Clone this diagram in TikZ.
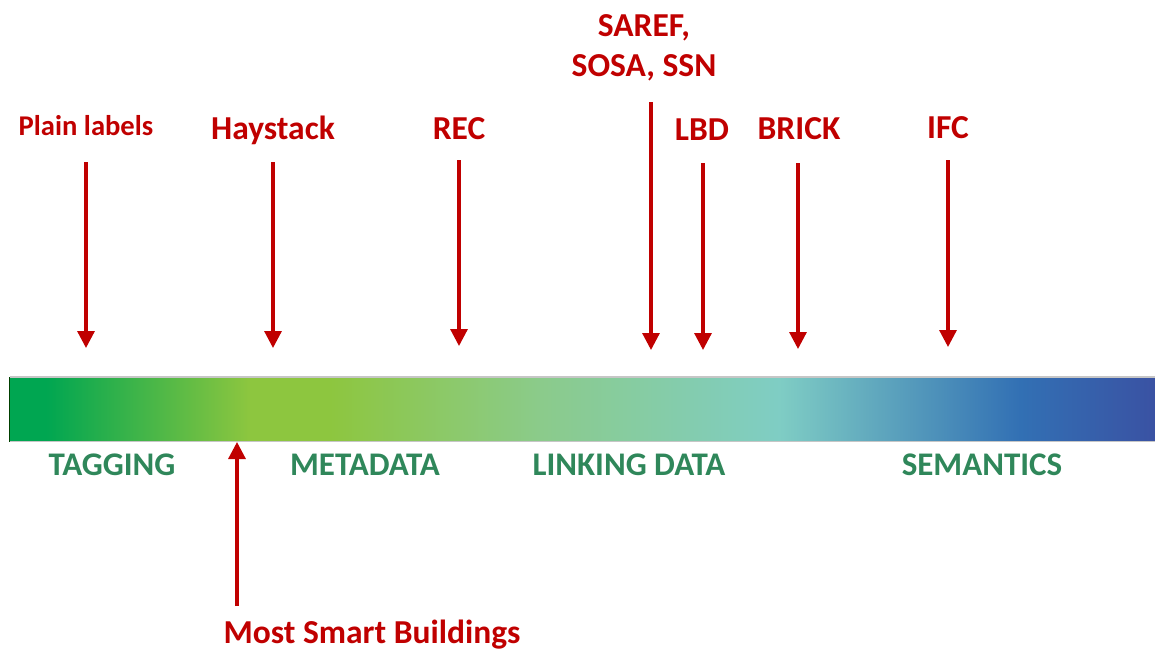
\documentclass[tikz,border=0pt]{standalone}
\usepackage{fontspec}
\setmainfont{Carlito}
\usetikzlibrary{arrows.meta}
\definecolor{arrred}{HTML}{C00000}
\definecolor{labgreen}{HTML}{2F875A}
\definecolor{gA}{HTML}{00A651}
\definecolor{gB}{HTML}{8DC63F}
\definecolor{gC}{HTML}{8BCB8B}
\definecolor{gD}{HTML}{7FCDC4}
\definecolor{gE}{HTML}{3270B4}
\definecolor{gF}{HTML}{3A52A3}
\pgfdeclarehorizontalshading{spectrum}{100bp}{color(0bp)=(gA); color(25bp)=(gA); color(26.6bp)=(gA); color(35.5bp)=(gB); color(39bp)=(gB); color(48.2bp)=(gC); color(58.6bp)=(gD); color(69.1bp)=(gE); color(75bp)=(gF); color(100bp)=(gF)}
\tikzset{
  redlab/.style={text=arrred, font=\bfseries\fontsize{33.5}{40}\selectfont, inner sep=0pt, anchor=base, align=center},
  smalllab/.style={redlab, font=\bfseries\fontsize{28.6}{34}\selectfont},
  greenlab/.style={text=labgreen, font=\bfseries\fontsize{33}{38}\selectfont, inner sep=0pt, anchor=base},
  redarrow/.style={draw=arrred, line width=3.2pt, -{Triangle[width=17pt,length=17pt]}},
}
\begin{document}
\begin{tikzpicture}[x=1pt,y=-1pt]
\useasboundingbox (0,0) rectangle (1155,648);
% bar
\path[shading=spectrum] (9.5,377) rectangle (1155,441.5);
\draw[gray!45, line width=1.2pt] (9.5,377) -- (1155,377);
\draw[gray!45, line width=1.2pt] (9.5,441.5) -- (1155,441.5);
\draw[black!75!green, line width=1.2pt] (9.5,377) -- (9.5,441.5);
% top labels
\node[smalllab] (plain) at (86,135) {Plain labels};
\node[redlab] (hay) at (273,139) {Haystack};
\node[redlab] (rec) at (459,139) {REC};
\node[redlab] (saref) at (644,36) {SAREF,};
\node[redlab] (sosa) at (644,76) {SOSA, SSN};
\node[redlab] (lbd) at (702,140) {LBD};
\node[redlab] (brick) at (799,139) {BRICK};
\node[redlab] (ifc) at (948,138) {IFC};
% arrow coordinates
\coordinate (p1) at (86,162);  \coordinate (q1) at (86,348);
\coordinate (p2) at (273,162); \coordinate (q2) at (273,348);
\coordinate (p3) at (459,160); \coordinate (q3) at (459,346);
\coordinate (p4) at (651,102); \coordinate (q4) at (651,350);
\coordinate (p5) at (703,163); \coordinate (q5) at (703,350);
\coordinate (p6) at (798,163); \coordinate (q6) at (798,349);
\coordinate (p7) at (948,160); \coordinate (q7) at (948,347);
\draw[redarrow] (p1) -- (q1);
\draw[redarrow] (p2) -- (q2);
\draw[redarrow] (p3) -- (q3);
\draw[redarrow] (p4) -- (q4);
\draw[redarrow] (p5) -- (q5);
\draw[redarrow] (p6) -- (q6);
\draw[redarrow] (p7) -- (q7);
% bottom labels
\node[greenlab] (tag) at (112,475) {TAGGING};
\node[greenlab] (meta) at (365,475) {METADATA};
\node[greenlab] (link) at (629,475) {LINKING DATA};
\node[greenlab] (sem) at (982,475) {SEMANTICS};
\node[redlab] (most) at (372,643) {Most Smart Buildings};
\coordinate (p8) at (237,606); \coordinate (q8) at (237,442);
\draw[redarrow] (p8) -- (q8);
\end{tikzpicture}
\end{document}
